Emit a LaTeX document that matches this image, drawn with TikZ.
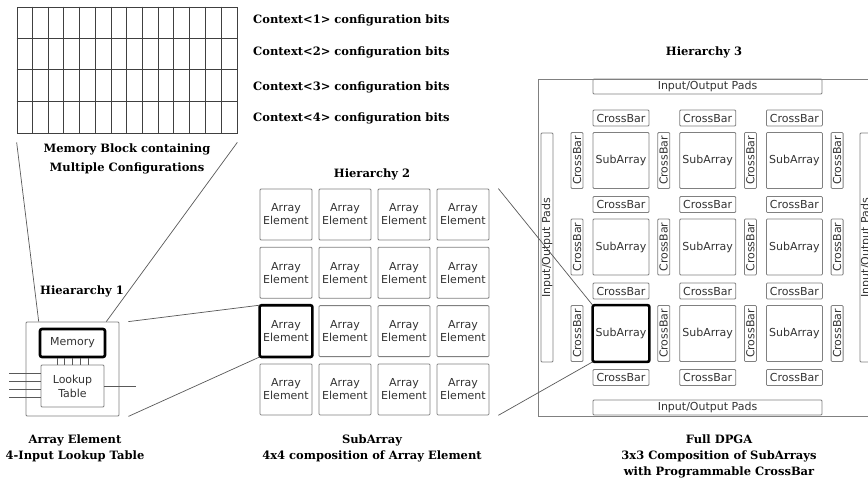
\documentclass[tikz,border=0pt]{standalone}
\usepackage{fontspec}
\setmainfont{DejaVu Serif}
\newfontfamily\boxfont{DejaVu Sans}
\usetikzlibrary{positioning}

\begin{document}
\begin{tikzpicture}[x=1pt, y=-1pt,
  lbl/.style={font=\bfseries\fontsize{11.5}{16}\selectfont, align=center, inner sep=0pt},
  cell/.style={draw=black!75, line width=0.7pt},
  bx/.style={draw=black!50, line width=0.8pt, rounded corners=1pt, inner sep=0pt, align=center,
    font=\boxfont\fontsize{11}{13}\selectfont, text=black!80},
  elem/.style={bx, minimum width=52pt, minimum height=51pt},
  sub/.style={bx, minimum width=56pt, minimum height=56pt},
  hbar/.style={bx, minimum width=56pt, minimum height=16pt},
  vbar/.style={bx, rotate=90, minimum width=56pt, minimum height=12pt},
  pad/.style={bx, minimum width=229pt, minimum height=15pt},
  hot/.style={draw=black, line width=2.6pt, rounded corners=2pt},
  link/.style={draw=black!65, line width=0.7pt}]
\fill[white] (0,0) rectangle (868,479);
\useasboundingbox (0,0) rectangle (868,479);

% memory block
\node[cell, minimum width=220pt, minimum height=126pt] (grid) at (127,70) {};
\foreach \i in {1,...,13}
  \draw[cell] ([xshift=\i*15.714pt]grid.north west) -- ([xshift=\i*15.714pt]grid.south west);
\foreach \i in {1,2,3}
  \draw[cell] ([yshift=-\i*31.5pt]grid.north west) -- ([yshift=-\i*31.5pt]grid.north east);
\foreach \y [count=\i] in {20,52,87,118}
  \node[lbl, anchor=west] (ctx\i) at (253,\y) {Context<\i> configuration bits};
\node[lbl, font=\bfseries\fontsize{11.5}{19}\selectfont] (memcap) at (127,159) {Memory Block containing\\Multiple Configurations};

% hierarchy 1
\node[lbl] (hier1) at (82,291) {Hieararchy 1};
\node[bx, minimum width=93pt, minimum height=94pt] (ae) at (72.5,369) {};
\node[bx, hot, minimum width=65pt, minimum height=28pt] (mem) at (72.5,343) {Memory};
\node[bx, minimum width=63pt, minimum height=42pt, font=\boxfont\fontsize{11}{14}\selectfont] (lut) at (72.5,386) {Lookup\\Table};
\foreach \x in {57,64.5,72,80,88}
  \draw[link] (\x,0 |- mem.south) -- (\x,0 |- lut.north);
\foreach \y [count=\i] in {373,381,389,397} {
  \coordinate (in\i) at (9,\y);
  \draw[link] (in\i) -- (in\i -| lut.west);
}
\coordinate[right=32pt of lut.east] (out);
\draw[link] (lut.east) -- (out);
\draw[link] ([yshift=-9pt]grid.south west) -- (mem.north west |- ae.north);
\draw[link] ([yshift=-9pt]grid.south east) -- (mem.north east |- ae.north);
\node[lbl] (capA) at (75,448) {Array Element\\4-Input Lookup Table};

% hierarchy 2
\node[lbl] (hier2) at (372,174) {Hierarchy 2};
\foreach \r in {1,...,4}
  \foreach \c in {1,...,4}
    \node[elem] (e\r\c) at ({227+59*\c},{156.2+58.3*\r}) {Array\\Element};
\draw[hot] (e31.north west) rectangle (e31.south east);
\draw[link] ([xshift=9pt]ae.north east) -- (e31.north west);
\draw[link] ([xshift=9pt]ae.south east) -- (e31.south west);
\node[lbl] (capS) at (372,448) {SubArray\\4x4 composition of Array Element};

% hierarchy 3
\node[lbl] (hier3) at (704,52) {Hierarchy 3};
\node[bx, rounded corners=0pt, minimum width=337pt, minimum height=337pt] (dpga) at (706.5,247.5) {};
\node[pad] (padT) at (707.5,86.5) {Input/Output Pads};
\node[pad] (padB) at (707.5,407.5) {Input/Output Pads};
\node[pad, rotate=90, minimum height=12pt] (padL) at (547,247.5) {Input/Output Pads};
\node[pad, rotate=90, minimum height=12pt] (padR) at (866,247.5) {Input/Output Pads};
\foreach \r in {1,2,3}
  \foreach \c in {1,2,3}
    \node[sub] (s\r\c) at ({534.3+86.7*\c},{74+86.5*\r}) {SubArray};
\foreach \k in {0,...,3}
  \foreach \c in {1,2,3}
    \node[hbar] (h\k\c) at ({534.3+86.7*\c},{118+86.5*\k}) {CrossBar};
\foreach \k in {0,...,3}
  \foreach \r in {1,2,3}
    \node[vbar] (v\r\k) at ({577+86.7*\k},{74+86.5*\r}) {CrossBar};
\draw[hot] (s31.north west) rectangle (s31.south east);
\draw[link] ([xshift=9pt]e14.north east) -- (s31.north west);
\draw[link] ([xshift=9pt]e44.south east) -- (s31.south west);
\node[lbl] (capD) at (719,456) {Full DPGA\\3x3 Composition of SubArrays\\with Programmable CrossBar};
\end{tikzpicture}
\end{document}
